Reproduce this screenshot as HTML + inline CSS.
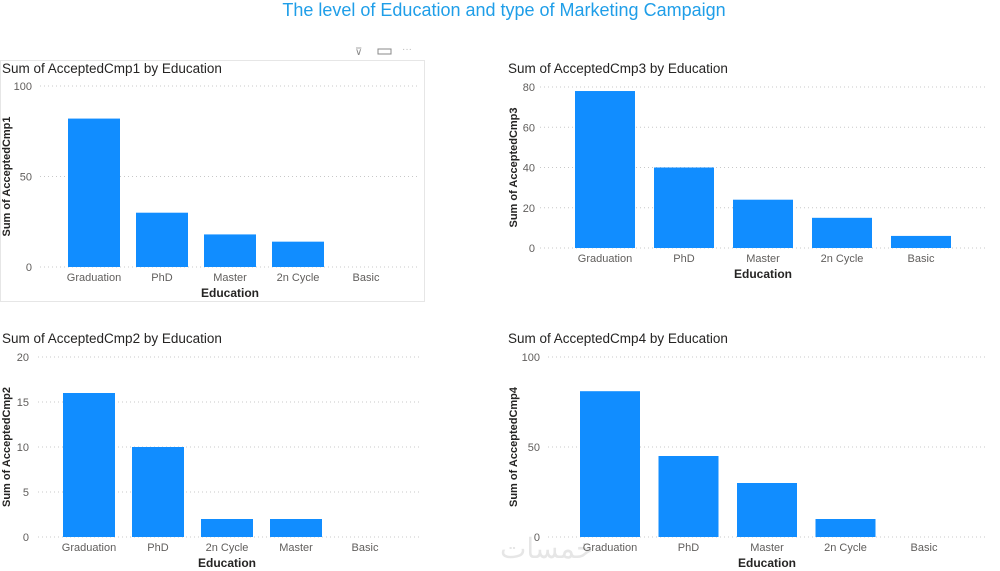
<!DOCTYPE html>
<html><head><meta charset="utf-8"><style>
body{margin:0;width:1000px;height:571px;background:#fff;overflow:hidden;font-family:"Segoe UI","Liberation Sans",sans-serif}
svg{display:block}
</style></head><body>
<svg id="s" width="1000" height="571" xmlns="http://www.w3.org/2000/svg">
<text x="504" y="16" text-anchor="middle" font-size="18" fill="#1f9ee8" font-family="Liberation Sans, sans-serif">The level of Education and type of Marketing Campaign</text>
<rect x="0.5" y="60.5" width="424" height="241" fill="none" stroke="#e6e6e6"/>
<text x="355" y="55" font-size="10" fill="#888">⊽</text>
<rect x="378" y="49" width="13" height="5" fill="none" stroke="#888"/>
<text x="402" y="52" font-size="10" fill="#bbb">···</text>
<text x="500" y="558" font-size="28" fill="#e6e6e6" font-family="Noto Sans CJK SC, sans-serif">خمسات</text>
</svg>
<script>
// Chart 1: AcceptedCmp1
const cats1=["Graduation","PhD","Master","2n Cycle","Basic"];
const vals1=[82,30,18,14,0];
const ticks1=[0,50,100];
// Chart 3: AcceptedCmp3
const cats3=["Graduation","PhD","Master","2n Cycle","Basic"];
const vals3=[78,40,24,15,6];
const ticks3=[0,20,40,60,80];
// Chart 2: AcceptedCmp2
const cats2=["Graduation","PhD","2n Cycle","Master","Basic"];
const vals2=[16,10,2,2,0];
const ticks2=[0,5,10,15,20];
// Chart 4: AcceptedCmp4
const cats4=["Graduation","PhD","Master","2n Cycle","Basic"];
const vals4=[81,45,30,10,0];
const ticks4=[0,50,100];

const NS="http://www.w3.org/2000/svg";
const svg=document.getElementById('s');
function el(t,a,txt){const e=document.createElementNS(NS,t);for(const k in a)e.setAttribute(k,a[k]);if(txt!==undefined)e.textContent=txt;svg.appendChild(e);return e;}

function chart(id,title,ytitle,cats,vals,ticks,g){
  const max=ticks[ticks.length-1];
  const y=v=>g.y0-(v/max)*(g.y0-g.yTop);
  const x=i=>g.x0+i*g.step;
  let t=el('text',{x:g.tx,y:g.ty,'font-size':13.5,fill:'#252423'},title);
  
  
  ticks.forEach(v=>{
    const l=el('line',{x1:g.gx1,x2:g.gx2,y1:y(v),y2:y(v),stroke:'#c8c8c8','stroke-dasharray':'1 3'});
    
    
    const tl=el('text',{x:g.lx,y:y(v)+4,'font-size':11,fill:'#605e5c','text-anchor':'end'},String(v));
    
    
  });
  cats.forEach((c,i)=>{
    const b=el('rect',{x:x(i),y:y(vals[i]),width:g.bw,height:g.y0-y(vals[i]),fill:'#118dff'});
    
    
    const xl=el('text',{x:x(i)+g.bw/2,y:g.y0+14,'font-size':11,fill:'#605e5c','text-anchor':'middle'},c);
    
    
  });
  const xt=el('text',{x:(x(0)+x(cats.length-1)+g.bw)/2,y:g.y0+30,'font-size':12,'font-weight':'bold',fill:'#252423','text-anchor':'middle'},'Education');
  
  
  const yt=el('text',{x:0,y:0,'font-size':11,'font-weight':'bold',fill:'#252423','text-anchor':'middle',transform:`translate(${g.ytx},${(g.yTop+g.y0)/2}) rotate(-90)`},ytitle);
  
  
}
chart('chart1','Sum of AcceptedCmp1 by Education','Sum of AcceptedCmp1',cats1,vals1,ticks1,
 {tx:2,ty:73,yTop:86,y0:267,x0:68,step:68,bw:52,gx1:40,gx2:420,lx:32,ytx:10});
chart('chart3','Sum of AcceptedCmp3 by Education','Sum of AcceptedCmp3',cats3,vals3,ticks3,
 {tx:508,ty:73,yTop:87,y0:248,x0:575,step:79,bw:60,gx1:540,gx2:985,lx:535,ytx:517});
chart('chart2','Sum of AcceptedCmp2 by Education','Sum of AcceptedCmp2',cats2,vals2,ticks2,
 {tx:2,ty:343,yTop:357,y0:537,x0:63,step:69,bw:52,gx1:38,gx2:420,lx:29,ytx:10});
chart('chart4','Sum of AcceptedCmp4 by Education','Sum of AcceptedCmp4',cats4,vals4,ticks4,
 {tx:508,ty:343,yTop:357,y0:537,x0:580,step:78.5,bw:60,gx1:548,gx2:985,lx:540,ytx:517});
</script>
</body></html>
